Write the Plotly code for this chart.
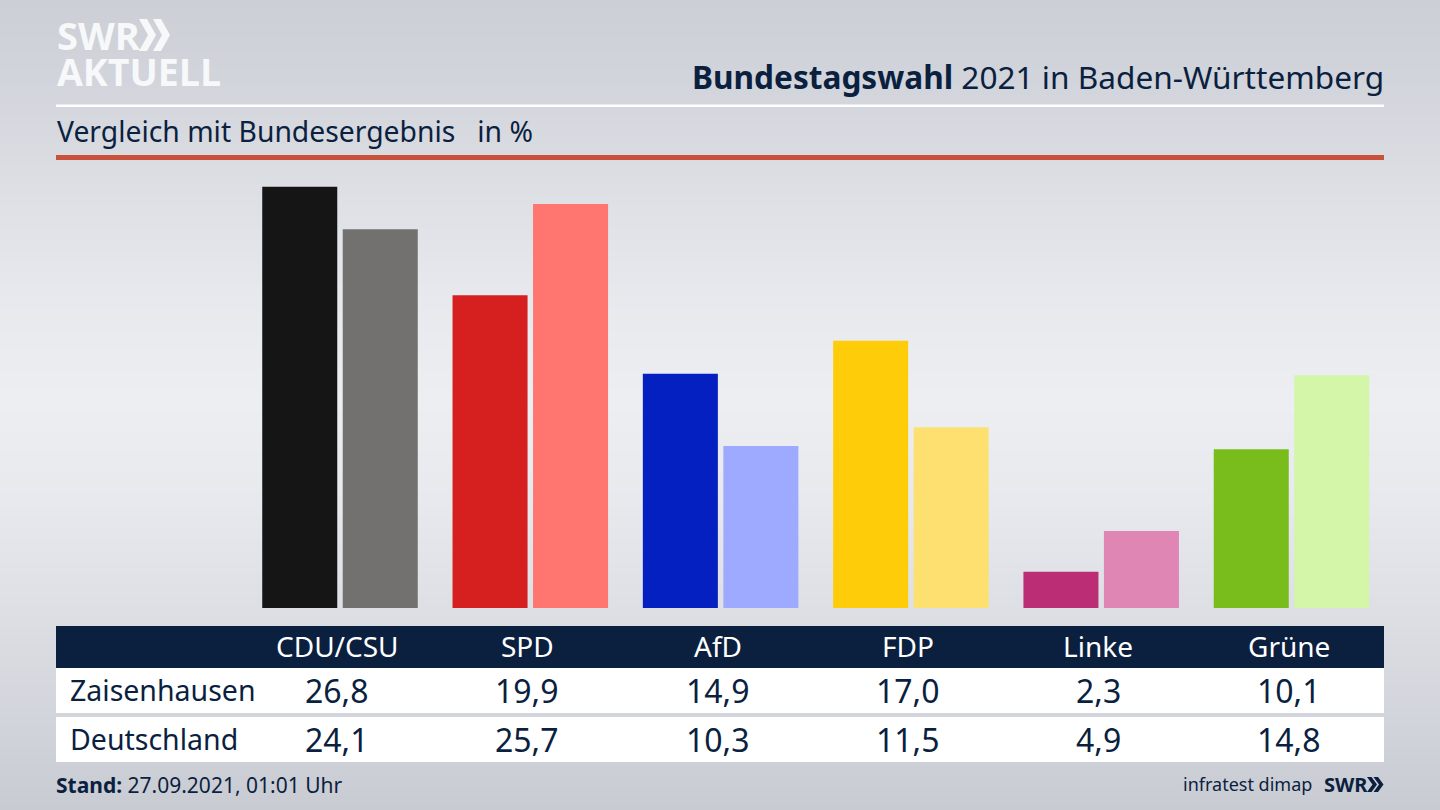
import plotly.graph_objects as go

W, H = 1440, 810
FONT = "Noto Sans"
NAVY = "#0b1f3f"

parties = ["CDU/CSU", "SPD", "AfD", "FDP", "Linke", "Grüne"]
zaisenhausen = [26.8, 19.9, 14.9, 17.0, 2.3, 10.1]
deutschland = [24.1, 25.7, 10.3, 11.5, 4.9, 14.8]
colors_local = ["#151515", "#d61f1f", "#0420c0", "#ffcc0a", "#bb2d75", "#78bd1c"]
colors_national = ["#72716f", "#ff7570", "#9daaff", "#fde070", "#e086b5", "#d3f6a8"]

bg_pos = [0, 90, 200, 300, 400, 500, 600, 700, 810]
bg_col = [205, 211, 222, 231, 236, 231, 222, 212, 201]


def px(x):
    return x / W


def py(y):
    return 1 - y / H


fig = go.Figure()

# background gradient
fig.add_trace(go.Heatmap(
    x=[0, W], y=bg_pos,
    z=[[v, v] for v in bg_col],
    zsmooth="best", showscale=False, hoverinfo="skip",
    colorscale=[[0, "rgb(200,203,210)"], [1, "rgb(236,238,242)"]],
    xaxis="x", yaxis="y",
))

PITCH = 190.3
SCALE = 15.72
BASE = 608
YMAX = 28
fig.add_trace(go.Bar(name="Zaisenhausen", x=parties, y=zaisenhausen,
                     marker=dict(color=colors_local, line_width=0),
                     xaxis="x2", yaxis="y2"))
fig.add_trace(go.Bar(name="Deutschland", x=parties, y=deutschland,
                     marker=dict(color=colors_national, line_width=0),
                     xaxis="x2", yaxis="y2"))

shapes = []


def rect(x0, y0, x1, y1, color):
    shapes.append(dict(type="rect", xref="paper", yref="paper", layer="above",
                       x0=px(x0), x1=px(x1), y0=py(y0), y1=py(y1),
                       fillcolor=color, line_width=0))


rect(56, 104.5, 1384, 107, "#ffffff")
rect(56, 155, 1384, 160, "#c8513c")
rect(56, 626, 1384, 668, NAVY)
rect(56, 668, 1384, 713, "#ffffff")
rect(56, 717, 1384, 762, "#ffffff")

annotations = []


def text(x, y, s, size, color=NAVY, anchor="left", family=FONT, height=None):
    annotations.append(dict(xref="paper", yref="paper", x=px(x), y=py(y), text=s,
                            showarrow=False, xanchor=anchor, yanchor="middle",
                            font=dict(family=family, size=size, color=color),
                            borderpad=0, borderwidth=0, height=height, align="left"))


text(1384, 76, "<b>Bundestagswahl</b> 2021 in Baden-Württemberg", 31.6, anchor="right")
text(57, 131.5, "Vergleich mit Bundesergebnis&nbsp;&nbsp;&nbsp;in %", 28.3)
text(70, 689.5, "Zaisenhausen", 28.5)
text(70, 738.5, "Deutschland", 28.5)
text(56, 784.5, "<b>Stand:</b> 27.09.2021, 01:01 Uhr", 21)
text(1312, 784, "infratest dimap", 18, anchor="right")
text(1324, 784, "<b>SWR</b>", 20)
logo = ("<span style='font-size:38px'><b>SWR</b></span><br>"
        "<span style='font-size:37.5px'><b>AKTUELL</b></span>")
text(56.5, 53, logo, 28, color="#f7f8f9", family="Open Sans")

for i, p in enumerate(parties):
    cx = 337 + PITCH * i
    text(cx, 645.5, p, 28, color="#ffffff", anchor="center")
    text(cx, 690, f"{zaisenhausen[i]:.1f}".replace(".", ","), 32, anchor="center")
    text(cx, 739, f"{deutschland[i]:.1f}".replace(".", ","), 32, anchor="center")


def chevron(x, y, w, h, t, color):
    x0, x1, x2, x3 = px(x), px(x + t), px(x + t + w), px(x + w)
    ym = py(y + h / 2)
    path = (f"M{x0},{py(y)} L{x1},{py(y)} L{x2},{ym} L{x1},{py(y + h)} "
            f"L{x0},{py(y + h)} L{x3},{ym} Z")
    shapes.append(dict(type="path", xref="paper", yref="paper", path=path,
                       fillcolor=color, line_width=0, layer="above"))


chevron(139, 19, 9, 32, 8, "#f7f8f9")
chevron(153, 19, 9, 32, 8, "#f7f8f9")
chevron(1367, 777, 5.5, 15, 4.5, NAVY)
chevron(1373.5, 777, 5.5, 15, 4.5, NAVY)

fig.update_layout(
    width=W, height=H, margin=dict(l=0, r=0, t=0, b=0),
    paper_bgcolor="#dfe1e6", plot_bgcolor="rgba(0,0,0,0)",
    showlegend=False, barmode="group", bargap=0.154, bargroupgap=0.068,
    shapes=shapes, annotations=annotations,
    xaxis=dict(domain=[0, 1], range=[0, W], visible=False, fixedrange=True),
    yaxis=dict(domain=[0, 1], range=[810, 0], visible=False, fixedrange=True),
    xaxis2=dict(domain=[px(340 - PITCH / 2), px(340 + PITCH * 5.5)],
                range=[-0.5, 5.5], visible=False, anchor="y2", fixedrange=True,
                categoryorder="array", categoryarray=parties),
    yaxis2=dict(domain=[py(BASE), py(BASE - YMAX * SCALE)], range=[0, YMAX],
                visible=False, anchor="x2", fixedrange=True),
)

fig.write_html("out.html", config={"displayModeBar": False},
               post_script="document.body.style.margin='0';document.documentElement.style.overflow='hidden';")
